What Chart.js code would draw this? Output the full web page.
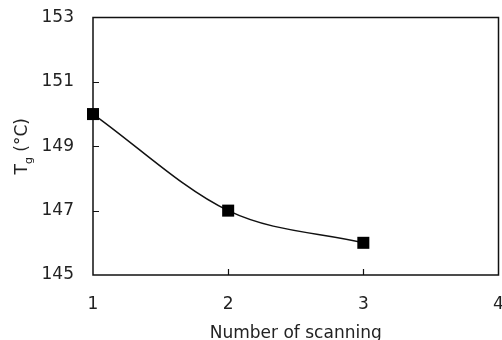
<!DOCTYPE html>
<html>
<head>
<meta charset="utf-8">
<script src="https://cdn.jsdelivr.net/npm/chart.js@4"></script>
<style>
    html, body { margin: 0; padding: 0; background: #fff; overflow: hidden; width: 502px; height: 340px; }
    /* a few px wider than the window so the last x label runs off the edge */
    #wrap { width: 507px; height: 340px; }
</style>
</head>
<body>
<div id="wrap"><canvas id="tgChart"></canvas></div>
<script>
const scanCount = [1, 2, 3];
const tgValues = [150, 147, 146];
const yTicks = [145, 147, 149, 151, 153];
const xTicks = [1, 2, 3, 4];

const FONT = "'DejaVu Sans', sans-serif";
const INK = "#222";

// frame box + inward tick marks + Tg axis title with subscript
const framePlugin = {
    id: "frame",
    beforeDatasetsDraw(chart) {
        const { ctx, chartArea: a, scales } = chart;
        ctx.save();
        ctx.strokeStyle = "#111";
        ctx.lineWidth = 1.5;
        ctx.strokeRect(a.left, a.top, a.right - a.left, a.bottom - a.top);
        ctx.lineWidth = 1.2;
        ctx.beginPath();
        yTicks.slice(1, -1).forEach((v) => {
            const y = Math.round(scales.y.getPixelForValue(v)) + 0.5;
            ctx.moveTo(a.left, y);
            ctx.lineTo(a.left + 6, y);
        });
        xTicks.slice(1, -1).forEach((v) => {
            const x = Math.round(scales.x.getPixelForValue(v)) + 0.5;
            ctx.moveTo(x, a.bottom);
            ctx.lineTo(x, a.bottom - 6);
        });
        ctx.stroke();
        ctx.restore();
    },
    afterDraw(chart) {
        const { ctx, chartArea: a } = chart;
        const big = "17px " + FONT;
        const small = "11px " + FONT;
        ctx.save();
        ctx.fillStyle = INK;
        ctx.textBaseline = "alphabetic";
        ctx.font = big;
        const wT = ctx.measureText("T").width;
        const wRest = ctx.measureText(" (°C)").width;
        ctx.font = small;
        const wg = ctx.measureText("g").width;
        const total = wT + wg + wRest;
        ctx.translate(27, (a.top + a.bottom) / 2);
        ctx.rotate(-Math.PI / 2);
        let x = -total / 2;
        ctx.font = big;
        ctx.fillText("T", x, 0);
        x += wT;
        ctx.font = small;
        ctx.fillText("g", x, 5);
        x += wg;
        ctx.font = big;
        ctx.fillText(" (°C)", x, 0);
        ctx.restore();
    },
};

document.addEventListener("DOMContentLoaded", function () {
    const ctx = document.getElementById("tgChart").getContext("2d");
    new Chart(ctx, {
        type: "line",
        data: {
            datasets: [
                {
                    data: scanCount.map((n, i) => ({ x: n, y: tgValues[i] })),
                    borderColor: "#111",
                    borderWidth: 1.5,
                    cubicInterpolationMode: "monotone",
                    pointStyle: "rect",
                    pointRadius: 8.5,
                    pointBackgroundColor: "#000",
                    pointBorderColor: "#000",
                    pointBorderWidth: 0,
                    clip: false,
                },
            ],
        },
        options: {
            responsive: true,
            maintainAspectRatio: false,
            animation: false,
            layout: { padding: { top: 17.5, right: 0, left: 0, bottom: 0 } },
            plugins: {
                legend: { display: false },
                tooltip: { enabled: false },
            },
            scales: {
                x: {
                    type: "linear",
                    min: 1,
                    max: 4,
                    afterBuildTicks: (s) => { s.ticks = xTicks.map((v) => ({ value: v })); },
                    grid: { display: false },
                    border: { display: false },
                    ticks: {
                        padding: 11,
                        color: INK,
                        font: { family: FONT, size: 17 },
                        maxRotation: 0,
                    },
                    title: {
                        display: true,
                        text: "Number of scanning",
                        color: INK,
                        font: { family: FONT, size: 17 },
                        padding: { top: 0, bottom: -4 },
                    },
                    afterFit: (s) => {
                        s.height = 65;
                        s.paddingLeft = 0;
                        s.paddingRight = 0;
                    },
                },
                y: {
                    min: 145,
                    max: 153,
                    afterBuildTicks: (s) => { s.ticks = yTicks.map((v) => ({ value: v })); },
                    grid: { display: false },
                    border: { display: false },
                    ticks: {
                        padding: 11,
                        color: INK,
                        font: { family: FONT, size: 17 },
                    },
                    afterFit: (s) => {
                        s.width = 93;
                        s.paddingTop = 0;
                        s.paddingBottom = 0;
                    },
                },
            },
        },
        plugins: [framePlugin],
    });
});
</script>
</body>
</html>
